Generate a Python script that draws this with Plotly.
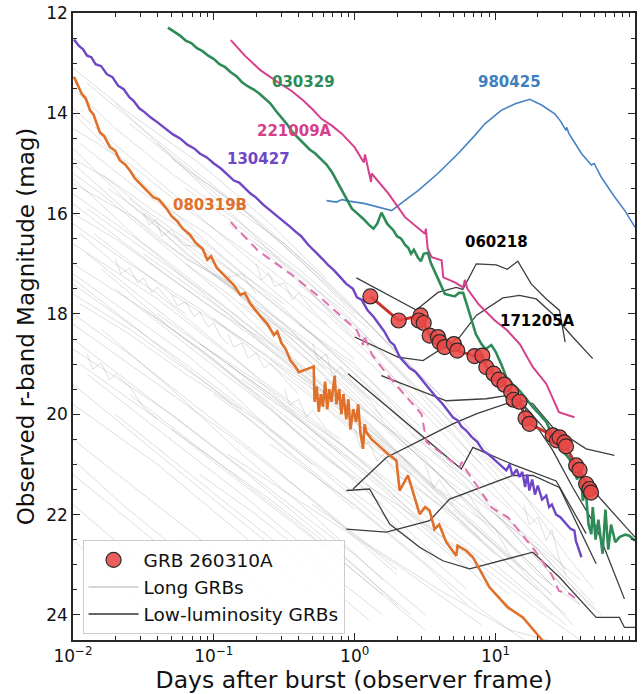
import numpy as np
import plotly.graph_objects as go

# ---------------- data (log10 days, magnitude) ----------------
grb080319b_logt = [-1.993,-1.965,-1.938,-1.91,-1.879,-1.855,-1.832,-1.809,-1.78,-1.738,-1.70,-1.667,-1.63,-1.596,-1.56,-1.525,-1.48,-1.43,-1.39,-1.336,-1.30,-1.26,-1.22,-1.17,-1.13,-1.08,-1.047,-1.02,-0.98,-0.93,-0.90,-0.86,-0.811,-0.78,-0.74,-0.70,-0.66,-0.62,-0.574,-0.55,-0.52,-0.49,-0.456,-0.42,-0.397,-0.291,-0.285,-0.27,-0.255,-0.24,-0.225,-0.21,-0.195,-0.18,-0.165,-0.142,-0.13,-0.11,-0.095,-0.08,-0.06,-0.045,-0.03,-0.01,0.01,0.025,0.04,0.059,0.07,0.083,0.12,0.18,0.24,0.296,0.319,0.378,0.461,0.50,0.532,0.567,0.60,0.65,0.721,0.73,0.792,0.839,0.957,1.087,1.194,1.324,1.36]
grb080319b_mag = [13.27,13.45,13.61,13.70,13.94,14.02,14.21,14.38,14.45,14.67,14.75,14.94,15.02,15.14,15.30,15.40,15.52,15.67,15.72,15.90,16.05,16.15,16.30,16.42,16.58,16.70,16.92,16.85,17.08,17.22,17.30,17.42,17.62,17.58,17.80,17.95,18.08,18.20,18.42,18.35,18.58,18.70,18.93,19.05,19.16,19.05,19.75,19.45,19.95,19.6,19.85,19.35,19.9,19.5,19.75,19.23,19.8,19.5,20.0,19.6,20.1,19.7,20.3,19.9,20.15,19.8,20.35,20.69,20.2,20.36,20.5,20.65,20.8,20.92,21.52,21.22,21.99,21.85,21.92,22.29,22.2,22.55,22.82,22.62,22.72,22.85,23.45,23.85,24.05,24.48,24.6]

grb130427_logt = [-1.993,-1.96,-1.93,-1.90,-1.87,-1.84,-1.80,-1.76,-1.72,-1.68,-1.64,-1.60,-1.57,-1.53,-1.49,-1.45,-1.40,-1.34,-1.29,-1.24,-1.19,-1.14,-1.10,-1.05,-1.00,-0.95,-0.90,-0.858,-0.82,-0.78,-0.74,-0.70,-0.65,-0.598,-0.55,-0.50,-0.456,-0.42,-0.38,-0.33,-0.30,-0.267,-0.23,-0.19,-0.15,-0.101,-0.06,-0.012,0.016,0.05,0.09,0.135,0.17,0.21,0.25,0.28,0.319,0.35,0.39,0.43,0.461,0.50,0.54,0.579,0.62,0.66,0.697,0.73,0.76,0.79,0.83,0.87,0.91,0.95,1.00,1.04,1.076,1.10,1.12,1.15,1.17,1.19,1.21,1.225,1.24,1.26,1.28,1.30,1.33,1.36,1.38,1.40,1.43,1.46,1.50,1.53,1.56,1.57,1.61]
grb130427_mag = [12.53,12.65,12.72,12.85,12.88,13.02,13.06,13.22,13.28,13.45,13.52,13.68,13.75,13.90,13.98,14.08,14.18,14.32,14.42,14.50,14.62,14.70,14.80,14.88,15.00,15.10,15.22,15.34,15.38,15.50,15.60,15.68,15.82,15.94,16.05,16.15,16.27,16.36,16.45,16.62,16.70,16.80,16.90,17.02,17.12,17.27,17.40,17.50,17.67,17.72,17.92,18.06,18.20,18.35,18.55,18.62,18.86,18.95,19.08,19.15,19.26,19.38,19.52,19.66,19.78,19.92,20.06,20.12,20.25,20.32,20.45,20.55,20.72,20.80,20.92,21.02,21.12,21.00,21.22,21.10,21.25,21.15,21.45,21.20,21.52,21.30,21.60,21.42,21.70,21.62,21.85,21.80,22.00,22.05,22.19,22.28,22.32,22.52,22.85]

grb030329_logt = [-1.326,-1.28,-1.24,-1.20,-1.16,-1.12,-1.08,-1.04,-1.00,-0.96,-0.92,-0.88,-0.84,-0.80,-0.76,-0.72,-0.68,-0.64,-0.60,-0.56,-0.52,-0.48,-0.44,-0.40,-0.36,-0.32,-0.28,-0.24,-0.20,-0.16,-0.12,-0.08,-0.055,-0.02,0.02,0.06,0.10,0.133,0.16,0.19,0.23,0.274,0.30,0.33,0.357,0.38,0.40,0.42,0.45,0.47,0.49,0.52,0.54,0.57,0.60,0.64,0.67,0.71,0.74,0.77,0.80,0.83,0.86,0.90,0.93,0.97,1.00,1.04,1.076,1.12,1.17,1.22,1.265,1.31,1.36,1.41,1.45,1.48,1.52,1.55,1.58,1.60,1.62,1.64,1.66,1.68,1.69,1.71,1.73,1.76,1.78,1.80,1.82,1.85,1.88,1.92,1.95,1.99]
grb030329_mag = [12.29,12.38,12.45,12.55,12.60,12.70,12.76,12.85,12.92,13.02,13.08,13.18,13.26,13.38,13.46,13.52,13.60,13.70,13.80,13.95,14.08,14.22,14.38,14.50,14.62,14.72,14.80,14.92,15.02,15.18,15.38,15.58,15.72,15.90,16.00,16.10,16.22,16.30,16.20,15.98,16.20,16.33,16.45,16.50,16.62,16.68,16.80,16.72,16.88,16.95,16.80,16.78,16.98,17.15,17.35,17.60,17.62,17.65,17.58,17.58,17.85,18.15,18.40,18.60,18.70,18.62,18.75,19.00,19.26,19.40,19.53,19.70,19.86,19.99,20.15,20.46,20.55,20.75,20.85,21.06,21.30,21.10,21.72,21.50,22.20,22.39,21.85,22.50,22.10,22.78,21.90,22.70,22.20,22.55,22.45,22.40,22.42,22.52]

grb221009a_logt = [-0.88,-0.78,-0.67,-0.60,-0.53,-0.45,-0.367,-0.30,-0.236,-0.16,-0.09,0.0,0.065,0.073,0.116,0.12,0.24,0.357,0.499,0.505,0.518,0.546,0.617,0.629,0.711,0.77,0.782,0.80,0.877,0.995,1.08,1.172,1.265,1.36,1.45,1.56]
grb221009a_mag = [12.54,12.85,13.14,13.28,13.41,13.55,13.74,13.92,14.11,14.25,14.41,14.68,14.98,14.82,15.37,15.20,15.60,16.07,16.40,16.30,16.70,16.87,16.93,17.27,17.37,17.47,17.32,17.50,17.80,18.13,18.32,18.60,19.06,19.39,19.96,20.06]

grb221009a_sub_logt = [-0.88,-0.69,-0.456,-0.22,0.016,0.059,0.065,0.12,0.225,0.31,0.40,0.475,0.51,0.617,0.745,0.76,0.80,0.877,0.972,1.09,1.184,1.28,1.397,1.45,1.525,1.562]
grb221009a_sub_mag = [16.17,16.73,17.20,17.73,18.33,18.62,18.42,18.80,19.19,19.47,19.75,20.00,20.55,20.78,21.06,20.95,21.15,21.46,21.86,22.06,22.39,22.72,23.19,23.52,23.58,23.66]

grb980425_logt = [-0.2,-0.13,-0.09,-0.04,0.073,0.262,0.35,0.45,0.59,0.735,0.85,0.924,0.98,1.04,1.14,1.20,1.243,1.33,1.42,1.46,1.50,1.505,1.52,1.61,1.68,1.70,1.75,1.846,1.92,1.99]
grb980425_mag = [15.74,15.77,15.72,15.75,15.80,15.94,15.75,15.54,15.20,14.80,14.45,14.21,14.08,13.94,13.81,13.76,13.72,13.84,14.01,14.15,14.34,14.28,14.40,14.80,15.03,15.00,15.27,15.67,15.95,16.27]

# GRB 260310A photometry
grb260310a_logt = [0.111,0.312,0.468,0.455,0.49,0.532,0.591,0.603,0.638,0.704,0.728,0.851,0.906,0.934,0.986,1.023,1.064,1.111,1.128,1.17,1.213,1.241,1.406,1.435,1.454,1.489,1.5,1.572,1.596,1.643,1.667,1.678]
grb260310a_mag = [17.65,18.13,18.03,18.13,18.18,18.43,18.46,18.56,18.66,18.60,18.73,18.84,18.83,19.06,19.19,19.31,19.41,19.56,19.71,19.75,20.08,20.19,20.42,20.52,20.46,20.56,20.64,21.02,21.11,21.39,21.49,21.56]

# Low-luminosity GRBs
lowlum_curves = [
    ([0.012,0.437,0.591,0.721,0.768,0.863,1.005,1.083,1.158,1.253,1.36,1.454,1.494],
     [17.28,17.92,17.57,17.47,17.51,17.00,17.02,17.11,16.95,17.40,17.70,17.93,18.56]),
    ([0.0,0.307,0.485,0.745,0.863,1.052,1.17,1.289,1.406,1.548,1.69],
     [18.46,18.86,18.93,18.46,18.03,17.68,17.63,17.70,18.00,18.46,18.89]),
    ([-0.047,0.757,0.839,1.12,1.43,1.643],
     [19.19,21.09,20.66,21.00,21.33,22.38]),
    ([0.189,0.65,0.934,1.076,1.265,1.406,1.643,1.844],
     [19.23,19.73,19.69,19.63,19.79,20.26,20.69,20.82]),
    ([-0.012,0.225,0.508,0.697,0.863,1.076,1.2,1.406,1.548,1.714,1.915],
     [21.49,20.86,20.46,20.19,19.99,19.79,19.85,20.72,21.46,22.25,23.68]),
    ([-0.059,0.106,0.248,0.461,0.626,0.816,1.265,1.454,1.714,1.879,1.915,1.99],
     [21.52,21.49,22.19,22.65,22.92,23.08,22.75,23.25,24.05,24.05,24.25,24.25]),
    ([-0.059,0.225,0.532,0.674,1.123,1.265,1.454,1.714],
     [22.29,22.35,22.12,21.69,21.22,21.22,21.46,22.98]),
    ([1.17,1.35,1.55,1.75,1.99],
     [19.72,20.30,21.00,21.70,22.45]),
]

# Long GRBs (grey sample)
long_grb_curves = [
    ([-2.0,-1.6,-1.1,-0.6,-0.2], [13.1,14.0,15.0,16.2,17.3]),
    ([-2.0,-1.7,-1.3,-0.9,-0.4,0.1], [13.5,14.3,15.2,16.0,17.1,18.3]),
    ([-2.0,-1.5,-1.0,-0.5,0.0,0.5], [13.9,15.1,16.3,17.5,18.7,20.0]),
    ([-2.0,-1.6,-1.2,-0.7,-0.2,0.4,0.9], [14.3,15.0,15.9,16.9,18.0,19.6,21.0]),
    ([-1.95,-1.5,-1.05,-0.55,0.0], [14.6,15.6,16.4,17.6,18.9]),
    ([-2.0,-1.4,-0.8,-0.3,0.3,0.8], [15.0,16.5,17.6,18.6,20.0,21.2]),
    ([-2.0,-1.55,-1.2,-0.8,-0.35,0.1], [15.4,16.1,16.9,17.5,18.6,19.7]),
    ([-2.0,-1.3,-0.7,-0.1,0.5,1.1], [15.8,17.3,18.5,19.8,21.3,22.9]),
    ([-1.9,-1.45,-1.0,-0.5,0.1,0.6], [15.9,16.8,17.7,18.8,20.2,21.6]),
    ([-2.0,-1.6,-1.1,-0.6,-0.1,0.4,1.0], [16.2,17.0,17.9,18.9,20.1,21.2,22.8]),
    ([-2.0,-1.4,-0.9,-0.3,0.2], [16.6,17.7,18.8,20.1,21.3]),
    ([-1.85,-1.3,-0.8,-0.2,0.4,0.9,1.4], [16.4,17.6,18.5,19.6,21.0,22.3,23.6]),
    ([-2.0,-1.5,-1.0,-0.4,0.2], [17.0,17.9,18.9,20.4,21.8]),
    ([-2.0,-1.2,-0.5,0.2,0.8], [17.4,19.0,20.5,22.0,23.5]),
    ([-1.95,-1.6,-1.2,-0.7,-0.2,0.3], [17.8,18.4,19.2,20.1,21.2,22.4]),
    ([-2.0,-1.5,-0.9,-0.3,0.3], [18.2,19.2,20.4,21.7,23.1]),
    ([-2.0,-1.3,-0.6,0.0,0.5], [18.7,20.0,21.5,22.8,24.0]),
    ([-1.9,-1.4,-0.8,-0.2], [19.2,20.3,21.6,23.0]),
    ([-2.0,-1.4,-0.8,-0.3], [19.8,21.0,22.4,23.6]),
    ([-2.0,-1.5,-1.0,-0.5], [20.5,21.6,22.7,23.9]),
    ([-2.0,-1.3,-0.7], [21.2,22.8,24.2]),
    ([-2.0,-1.5,-1.0], [21.8,23.0,24.3]),
    ([-2.0,-1.6,-1.3], [22.5,23.6,24.4]),
    ([-1.6,-1.2,-0.8,-0.4,0.1,0.6], [14.2,15.1,15.9,16.9,18.2,19.6]),
    ([-1.3,-0.9,-0.5,-0.1,0.3], [14.9,15.8,16.6,17.6,18.8]),
    ([-1.2,-0.8,-0.35,0.1,0.6,1.1], [15.5,16.3,17.3,18.5,19.9,21.5]),
    ([-0.9,-0.5,-0.1,0.3,0.8,1.3], [16.2,17.0,17.9,19.1,20.7,22.2]),
    ([-0.7,-0.3,0.1,0.5,1.0,1.5], [16.6,17.6,18.7,20.0,21.5,23.1]),
    ([-1.0,-0.5,0.0,0.5,1.0,1.5], [17.2,18.3,19.4,20.6,22.0,23.5]),
    ([-0.8,-0.4,0.0,0.4,0.9,1.4], [17.8,18.5,19.6,20.7,22.0,23.4]),
    ([-1.5,-1.0,-0.5,0.0,0.5,1.0], [16.0,17.0,18.2,19.5,20.9,22.4]),
    ([-1.7,-1.2,-0.6,0.0,0.6], [17.5,18.6,19.9,21.3,22.9]),
    ([-1.4,-0.9,-0.4,0.2,0.7,1.2], [18.0,19.0,20.1,21.5,22.8,24.1]),
    ([-1.1,-0.6,-0.1,0.4,0.9,1.4], [18.6,19.5,20.6,21.8,22.9,24.0]),
    ([-0.6,-0.2,0.2,0.6,1.0,1.4], [18.9,19.7,20.6,21.6,22.6,23.6]),
    ([-0.5,0.0,0.5,1.0,1.5], [19.8,20.8,21.9,23.0,24.2]),
    ([-1.8,-1.3,-0.8,-0.3,0.2], [18.3,19.5,20.8,22.0,23.3]),
    ([-1.6,-1.0,-0.4,0.2], [19.6,20.9,22.2,23.6]),
    ([-1.3,-0.7,-0.1,0.5], [20.3,21.6,22.9,24.3]),
    ([-0.9,-0.3,0.3,0.9], [20.8,21.9,23.0,24.2]),
    ([-0.2,0.3,0.8,1.3,1.6], [20.9,21.8,22.8,23.9,24.5]),
    ([0.0,0.4,0.9,1.3,1.6], [19.8,20.6,21.7,22.6,23.3]),
    ([0.2,0.6,1.0,1.4,1.7], [20.2,21.2,22.0,22.9,23.8]),
    ([-2.0,-1.7,-1.4,-1.1,-0.8,-0.5], [14.9,15.4,16.0,16.5,17.2,17.8]),
    ([-2.0,-1.6,-1.2,-0.8], [17.6,18.3,19.1,19.9]),
    ([-1.8,-1.5,-1.1,-0.7,-0.3,0.2,0.7], [15.2,15.9,16.7,17.5,18.4,19.7,21.1]),
    ([-1.5,-1.2,-0.9,-0.5,-0.1,0.4], [16.8,17.4,18.0,18.9,19.9,21.2]),
    ([-2.0,-1.7,-1.3,-1.0,-0.6,-0.2,0.3,0.9], [16.0,16.5,17.3,17.9,18.6,19.6,20.9,22.5]),
    ([-1.95,-1.5,-1.1,-0.6,-0.1,0.4], [19.0,19.9,20.7,21.7,22.8,24.0]),
    ([-0.4,0.0,0.4,0.8,1.2,1.6], [18.2,19.0,20.2,21.3,22.6,23.8]),
    ([0.3,0.7,1.1,1.5], [21.2,22.0,23.0,24.0]),
    ([0.6,1.0,1.3,1.6], [21.5,22.3,23.2,23.8]),
    ([-0.3,0.1,0.6,1.1,1.5], [21.8,22.6,23.5,24.3,24.6]),
    ([-2.0,-1.8,-1.5,-1.2,-0.9,-0.6,-0.3], [17.2,17.6,18.2,18.8,19.5,20.3,21.0]),
    ([-1.2,-0.9,-0.6,-0.3,0.0,0.4], [17.0,17.6,18.3,19.0,19.9,21.0]),
    ([-0.9,-0.6,-0.2,0.2,0.6], [19.0,19.6,20.5,21.4,22.5]),
    ([-1.7,-1.4,-1.1,-0.8,-0.4,0.0], [13.8,14.6,15.4,16.2,17.3,18.5]),
    ([-1.4,-1.1,-0.7,-0.3,0.1,0.6,1.0], [14.6,15.3,16.1,17.1,18.2,19.6,20.9]),
    ([0.9,1.2,1.5,1.7], [20.8,21.6,22.8,23.5]),
    ([1.0,1.3,1.5,1.75], [22.0,22.7,23.3,24.0]),
    ([-1.5,-1.46,-1.41,-1.37,-1.3,-1.22,-1.1,-1.0,-0.92,-0.8,-0.7], [16.0,16.22,16.12,16.45,16.32,16.62,16.66,16.95,17.28,17.2,17.6]),
    ([-0.7,-0.66,-0.61,-0.57,-0.5,-0.44,-0.4,-0.3,-0.2], [17.0,17.32,17.18,17.45,17.38,17.72,17.58,17.92,18.2]),
    ([-1.9,-1.86,-1.8,-1.74,-1.7,-1.6,-1.5,-1.4], [18.8,19.1,18.98,19.32,19.2,19.44,19.86,20.1]),
    ([-0.3,-0.26,-0.2,-0.16,-0.1,0.0,0.1,0.2], [18.6,18.92,18.8,19.22,19.06,19.42,19.68,20.1]),
    ([0.5,0.56,0.6,0.7,0.8,0.9,1.0,1.1,1.2], [21.0,21.48,21.3,21.72,21.56,22.0,22.3,22.8,23.1]),
    ([1.2,1.24,1.3,1.36,1.4,1.45,1.5], [21.8,22.2,22.05,22.52,22.3,22.86,23.2]),
    ([-2.0,-1.5,-1.0,-0.5,0.0,0.4], [14.0,15.4,16.7,17.9,19.2,20.3]),
    ([-2.0,-1.6,-1.1,-0.7,-0.2], [14.7,15.8,17.0,17.9,19.1]),
    ([-2.0,-1.5,-0.9,-0.4,0.1], [15.3,16.6,18.0,19.2,20.6]),
    ([-2.0,-1.4,-0.9,-0.4,0.2,0.7], [15.6,16.8,17.9,19.0,20.5,21.8]),
    ([-1.9,-1.5,-1.0,-0.6,-0.1], [16.8,17.7,18.8,19.6,20.8]),
    ([-2.0,-1.5,-1.0,-0.5,0.0], [17.3,18.4,19.5,20.7,21.9]),
    ([-2.0,-1.6,-1.1,-0.6,-0.1,0.3], [18.0,18.8,19.9,21.0,22.2,23.2]),
    ([-2.0,-1.4,-0.8,-0.2,0.3], [18.5,19.8,21.1,22.5,23.8]),
    ([-1.8,-1.3,-0.7,-0.2], [17.1,18.3,19.6,20.9]),
    ([-1.6,-1.1,-0.6,-0.1,0.4], [15.7,16.9,18.1,19.4,20.8]),
    ([-1.5,-1.1,-0.6,-0.2,0.3,0.8], [17.9,18.7,19.8,20.7,21.9,23.1]),
    ([-1.2,-0.8,-0.4,0.1,0.6,1.1], [16.4,17.3,18.2,19.3,20.6,21.9]),
    ([-1.0,-0.6,-0.2,0.3,0.8,1.3], [18.1,19.0,19.9,21.1,22.3,23.5]),
    ([-0.8,-0.4,0.1,0.6,1.1], [19.3,20.1,21.2,22.4,23.6]),
    ([-2.0,-1.7,-1.35,-1.0,-0.6], [19.4,20.1,20.9,21.7,22.6]),
    ([-1.7,-1.3,-0.9,-0.4,0.1], [20.0,20.9,21.8,22.9,24.1]),
    ([-1.1,-0.7,-0.3,0.2], [21.2,22.0,22.9,24.0]),
    ([-2.0,-1.65,-1.3,-0.95], [20.9,21.8,22.6,23.4]),
    ([-1.9,-1.6,-1.2,-0.8,-0.4,0.0], [13.4,14.1,15.0,15.9,16.9,18.0]),
    ([-0.4,0.0,0.3,0.7,1.1,1.5], [17.4,18.3,19.1,20.2,21.3,22.5]),
    ([-0.2,0.2,0.6,1.0,1.4], [19.3,20.2,21.2,22.3,23.4]),
    ([0.4,0.8,1.2,1.5,1.7], [20.4,21.3,22.4,23.3,23.9]),
    ([-2.0,-1.8,-1.5,-1.2,-0.9,-0.6,-0.3,0.0], [15.2,15.6,16.3,17.0,17.7,18.5,19.2,20.0]),
    ([-1.95,-1.7,-1.4,-1.1,-0.8,-0.5], [16.4,17.0,17.6,18.3,19.0,19.8]),
    ([-1.75,-1.5,-1.2,-0.9,-0.6,-0.3,0.1], [15.5,16.0,16.8,17.4,18.2,19.0,20.0]),
    ([-1.3,-1.26,-1.2,-1.14,-1.1,-1.04,-1.0,-0.95,-0.9], [17.6,17.84,17.76,18.05,17.96,18.26,18.18,18.46,18.6]),
    ([-0.9,-0.86,-0.8,-0.76,-0.7,-0.64,-0.6,-0.5,-0.4], [18.4,18.66,18.58,18.88,18.78,19.08,18.98,19.3,19.6]),
    ([-1.7,-1.66,-1.6,-1.54,-1.5,-1.44,-1.4,-1.3,-1.2], [16.9,17.2,17.08,17.38,17.28,17.58,17.46,17.8,18.0]),
    ([0.0,0.04,0.1,0.16,0.2,0.3,0.4,0.5], [20.3,20.66,20.55,20.94,20.8,21.2,21.4,21.8]),
    ([-0.5,-0.46,-0.4,-0.34,-0.3,-0.2,-0.1], [19.5,19.82,19.7,20.06,19.92,20.3,20.5]),
    ([-1.0,-0.7,-0.4,-0.1,0.2,0.5,0.8], [19.6,20.2,20.9,21.6,22.3,23.0,23.8]),
    ([-0.6,-0.3,0.0,0.3,0.6,0.9,1.2], [20.6,21.2,21.8,22.5,23.2,23.9,24.5]),
    ([0.7,0.95,1.15,1.35,1.55], [21.9,22.5,23.0,23.6,24.2]),
]

# label texts and anchor positions (log10 days, mag)
labels = ["030329", "221009A", "130427", "080319B", "980425", "060218", "171205A"]
label_logt = [-0.362, -0.426, -0.684, -1.028, 1.096, 1.004, 1.298]
label_mag = [13.38, 14.36, 14.92, 15.82, 13.38, 16.56, 18.15]
label_colors = ["#2e8b57", "#d63f8c", "#6f47c6", "#e0702a", "#3f7fc0", "#000000", "#000000"]

# axis ticks
x_major = [0.01, 0.1, 1, 10]
x_major_text = ["10<sup>−2</sup>", "10<sup>−1</sup>", "10<sup>0</sup>", "10<sup>1</sup>"]
x_decades = [0.01, 0.1, 1, 10]
x_digits = [2, 3, 4, 5, 6, 7, 8, 9]
y_major = [12, 14, 16, 18, 20, 22, 24]
y_minor = [12.5, 13, 13.5, 14.5, 15, 15.5, 16.5, 17, 17.5, 18.5, 19, 19.5,
           20.5, 21, 21.5, 22.5, 23, 23.5, 24.5]

FONT = "DejaVu Sans"

def days(lt):
    return list(10 ** np.asarray(lt, dtype=float))

fig = go.Figure()

for lt, m in long_grb_curves:
    fig.add_trace(go.Scatter(x=days(lt), y=m, mode="lines",
                             line=dict(color="rgba(140,140,140,0.29)", width=1),
                             showlegend=False, hoverinfo="skip"))

for lt, m in lowlum_curves:
    fig.add_trace(go.Scatter(x=days(lt), y=m, mode="lines",
                             line=dict(color="rgba(40,40,40,0.9)", width=1.3),
                             showlegend=False, hoverinfo="skip"))

fig.add_trace(go.Scatter(x=days(grb980425_logt), y=grb980425_mag, mode="lines",
                         line=dict(color="#4682c4", width=1.6), showlegend=False))
fig.add_trace(go.Scatter(x=days(grb221009a_sub_logt), y=grb221009a_sub_mag, mode="lines",
                         line=dict(color="#e070b0", width=2, dash="9px,6px"), showlegend=False))
fig.add_trace(go.Scatter(x=days(grb080319b_logt), y=grb080319b_mag, mode="lines",
                         line=dict(color="#e0702a", width=2.6), showlegend=False))
fig.add_trace(go.Scatter(x=days(grb130427_logt), y=grb130427_mag, mode="lines",
                         line=dict(color="#6f47c6", width=2.4), showlegend=False))
fig.add_trace(go.Scatter(x=days(grb221009a_logt), y=grb221009a_mag, mode="lines",
                         line=dict(color="#d63f8c", width=2), showlegend=False))
fig.add_trace(go.Scatter(x=days(grb030329_logt), y=grb030329_mag, mode="lines",
                         line=dict(color="#2e8b57", width=2.6), showlegend=False))

fig.add_trace(go.Scatter(x=days(grb260310a_logt), y=grb260310a_mag, mode="lines",
                         line=dict(color="#c8332b", width=3), showlegend=False))
fig.add_trace(go.Scatter(x=days(grb260310a_logt), y=grb260310a_mag, mode="markers",
                         marker=dict(size=15, color="rgba(232,72,70,0.88)",
                                     line=dict(color="#2a2a2a", width=1.2)),
                         name="GRB 260310A", legendgroup="a", showlegend=True))
fig.add_trace(go.Scatter(x=[None], y=[None], mode="lines",
                         line=dict(color="#c8c8c8", width=1.5),
                         name="Long GRBs", legendgroup="b", showlegend=True))
fig.add_trace(go.Scatter(x=[None], y=[None], mode="lines",
                         line=dict(color="#333333", width=1.5),
                         name="Low-luminosity GRBs", legendgroup="c", showlegend=True))

for t, lt, m, c in zip(labels, label_logt, label_mag, label_colors):
    fig.add_annotation(x=lt, y=m, xref="x", yref="y", text="<b>%s</b>" % t,
                       showarrow=False, font=dict(family=FONT, size=15, color=c),
                       xanchor="center", yanchor="middle")

axis_common = dict(showgrid=False, zeroline=False, showline=True, linecolor="#262626",
                   linewidth=1.5, mirror="ticks", ticks="inside", ticklen=7, tickwidth=1,
                   tickcolor="#262626", tickfont=dict(family=FONT, size=17, color="#111"),
                   automargin=False)

x_minor = [d * k for d in x_decades for k in x_digits]

fig.update_xaxes(type="log", range=[-2, 1.99], tickmode="array", tickvals=x_major,
                 ticktext=x_major_text,
                 minor=dict(ticks="inside", ticklen=4, tickwidth=1, tickcolor="#262626",
                            tickmode="array", tickvals=x_minor, showgrid=False),
                 title=dict(text="Days after burst (observer frame)",
                            font=dict(family=FONT, size=23.5, color="#111"), standoff=4),
                 **axis_common)
fig.update_yaxes(range=[24.5, 12], tickmode="array", tickvals=y_major,
                 minor=dict(ticks="inside", ticklen=4, tickwidth=1, tickcolor="#262626",
                            tickmode="array", tickvals=y_minor, showgrid=False),
                 title=dict(text="Observed r-band Magnitude (mag)",
                            font=dict(family=FONT, size=23, color="#111"), standoff=5),
                 **axis_common)

fig.update_layout(
    width=644, height=694,
    margin=dict(l=73, r=9, t=13, b=54),
    paper_bgcolor="white", plot_bgcolor="white",
    font=dict(family=FONT, color="#111"),
    legend=dict(x=0.017, y=0.009, xanchor="left", yanchor="bottom",
                bgcolor="rgba(255,255,255,0.85)", bordercolor="#cccccc", borderwidth=1,
                font=dict(family=FONT, size=18.5, color="#111"),
                traceorder="grouped", tracegroupgap=0, itemwidth=50),
)

fig.write_html("out.html")
